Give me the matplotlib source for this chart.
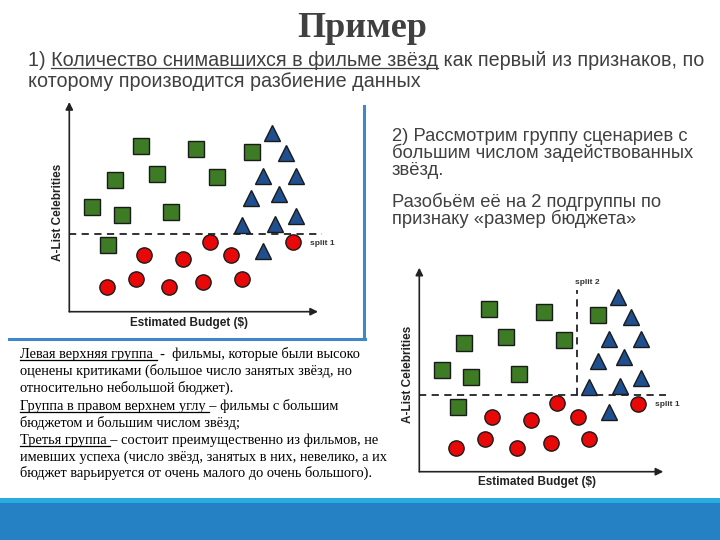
import matplotlib
matplotlib.use("Agg")
import matplotlib.pyplot as plt
from matplotlib.lines import Line2D
from matplotlib.patches import Rectangle

# Scatter data (same films on both charts), units: percent of axis length
budget_sq = [28.8, 51.1, 73.3, 18.5, 35.4, 59.5, 9.2, 21.3, 41.0, 15.7]
celeb_sq = [81.0, 79.4, 78.0, 64.2, 67.0, 65.6, 50.9, 47.3, 48.6, 32.4]
budget_tri = [81.6, 87.0, 77.8, 91.0, 73.2, 84.2, 91.0, 69.6, 82.6, 77.8]
celeb_tri = [87.3, 77.3, 66.3, 66.3, 55.3, 57.3, 46.7, 42.3, 42.6, 29.8]
budget_circ = [56.7, 89.8, 29.9, 45.8, 65.0, 15.0, 26.9, 40.0, 53.9, 69.6]
celeb_circ = [34.0, 33.9, 27.5, 25.7, 27.5, 12.0, 16.1, 12.0, 14.3, 16.1]
split1 = 38.0
split2 = 64.8

title = "Пример"
intro_lines = ["1) Количество снимавшихся в фильме звёзд как первый из признаков, по",
               "которому производится разбиение данных"]
step2_lines = ["2) Рассмотрим группу сценариев с",
               "большим числом задействованных",
               "звёзд.",
               "Разобьём её на 2 подгруппы по",
               "признаку «размер бюджета»"]
note_lines = ["Левая верхняя группа  -  фильмы, которые были высоко",
              "оценены критиками (большое число занятых звёзд, но",
              "относительно небольшой бюджет).",
              "Группа в правом верхнем углу – фильмы с большим",
              "бюджетом и большим числом звёзд;",
              "Третья группа – состоит преимущественно из фильмов, не",
              "имевших успеха (число звёзд, занятых в них, невелико, а их",
              "бюджет варьируется от очень малого до очень большого)."]

W, H = 720, 540
fig = plt.figure(figsize=(W / 100, H / 100), dpi=100)
fig.patch.set_facecolor("white")


def fx(px):
    return px / W


def fy(py):
    return 1 - py / H


def chart(x0, y0, w, h, xmax, ymax, with_split2):
    # x0, y0 = pixel position of the origin; w, h = axis lengths in pixels
    ax = fig.add_axes([fx(x0), fy(y0), w / W, h / H])
    ax.set_xlim(0, xmax)
    ax.set_ylim(0, ymax)
    ax.axis("off")
    arrow = dict(arrowstyle="-|>", color="#222222", lw=1.2, mutation_scale=11,
                 shrinkA=0, shrinkB=0)
    ax.annotate("", xy=(1, 0), xytext=(0, 0), xycoords="axes fraction",
                arrowprops=arrow)
    ax.annotate("", xy=(0, 1), xytext=(0, 0), xycoords="axes fraction",
                arrowprops=arrow)
    ax.plot([0, 101.5], [split1, split1], ls=(0, (4, 3)), color="#222222",
            lw=1.3, clip_on=False)
    if with_split2:
        ax.plot([split2, split2], [split1, 90.6], ls=(0, (4, 3)),
                color="#222222", lw=1.3, clip_on=False)
        ax.text(64.0, 94.2, "split 2", fontsize=6, fontweight="bold",
                color="#333333", va="center", ha="left",
                family="Liberation Sans")
    ax.text(96.8, 33.5, "split 1", fontsize=6, fontweight="bold",
            color="#333333", va="center", ha="left", family="Liberation Sans")
    ax.plot(budget_sq, celeb_sq, "s", ms=11, mfc="#3e7b25", mec="#1a1a1a",
            mew=1.0, clip_on=False)
    ax.plot(budget_tri, celeb_tri, "^", ms=11.5, mfc="#1f4f8f", mec="#1a1a1a",
            mew=1.0, clip_on=False)
    ax.plot(budget_circ, celeb_circ, "o", ms=11, mfc="#e80808", mec="#1a1a1a",
            mew=1.0, clip_on=False)
    ax.text(48.3, -5.3, "Estimated Budget ($)", fontsize=8.5, fontweight="bold",
            color="#222222", ha="center", va="center", family="Liberation Sans")
    ax.text(-4.5, 48.6, "A-List Celebrities", fontsize=8.5, fontweight="bold",
            color="#222222", ha="center", va="center", rotation=90,
            family="Liberation Sans")
    return ax


chart(69.3, 311.7, 248.7, 209.7, 100, 102.3, False)
chart(419.3, 471.7, 244, 204, 100.2, 101.7, True)

# frame around the first chart
frame_c = "#3f87c7"
fig.add_artist(Line2D([fx(364), fx(364)], [fy(106), fy(339)], color=frame_c,
                      lw=2.2, transform=fig.transFigure))
fig.add_artist(Line2D([fx(9), fx(365)], [fy(339), fy(339)], color=frame_c,
                      lw=2.2, transform=fig.transFigure))

# bottom band
fig.add_artist(Rectangle((0, 0), 1, fy(503), facecolor="#2581c4",
                         edgecolor="none", transform=fig.transFigure))
fig.add_artist(Rectangle((0, fy(503)), 1, 5 / H, facecolor="#2aace2",
                         edgecolor="none", transform=fig.transFigure))

renderer = fig.canvas.get_renderer()


def put(px, py, s, underline=None, **kw):
    t = fig.text(fx(px), fy(py), s, va="baseline", ha="left", **kw)
    if underline:
        fp = t.get_fontproperties()

        def width(u):
            return renderer.get_text_width_height_descent(u, fp, False)[0]
        i = s.index(underline)
        j = i + len(underline)
        space = width("a a") - width("aa")
        trail = len(s[:j]) - len(s[:j].rstrip())
        x_start = px if i == 0 else px + width(s[:i + 1]) - width(s[i])
        x_end = px + width(s[:j].rstrip()) + space * trail
        fig.add_artist(Line2D([fx(x_start), fx(x_end)], [fy(py + 2), fy(py + 2)],
                              color=kw.get("color", "black"), lw=0.9,
                              transform=fig.transFigure))
    return t


put(362, 37, title, fontsize=26, fontweight="bold", color="#404040",
    family="Liberation Serif").set_ha("center")

sans = dict(fontsize=14.2, color="#404040", family="Liberation Sans")
put(28, 66, intro_lines[0], underline="Количество снимавшихся в фильме звёзд", **sans)
put(28, 87, intro_lines[1], **sans)

sans2 = dict(fontsize=13.2, color="#404040", family="Liberation Sans")
for k, yy in enumerate([141, 158, 175, 207, 224]):
    put(392, yy, step2_lines[k], **sans2)

serif = dict(fontsize=10.35, color="black", family="Liberation Serif")
note_y = [358, 375, 392, 410, 427, 444, 461, 477]
underlines = {0: "Левая верхняя группа ", 3: "Группа в правом верхнем углу ",
              5: "Третья группа "}
for k, yy in enumerate(note_y):
    put(20, yy, note_lines[k], underline=underlines.get(k), **serif)

fig.savefig("out.png", dpi=100)
